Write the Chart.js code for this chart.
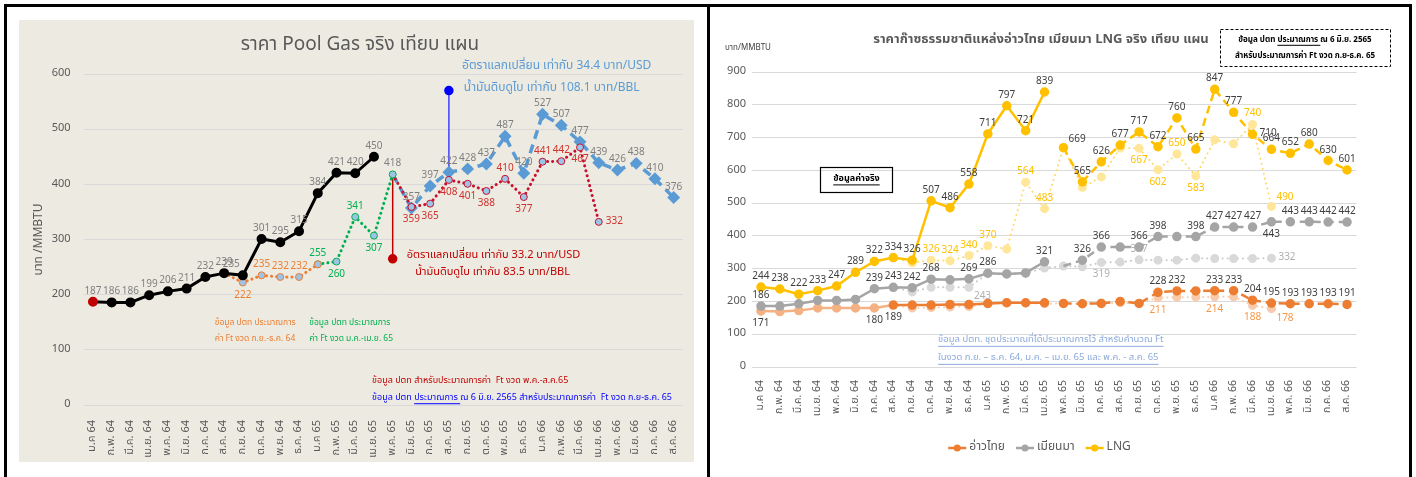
<!DOCTYPE html>
<html>
<head>
<meta charset="utf-8">
<script src="https://cdn.jsdelivr.net/npm/chart.js@4.4.0/dist/chart.umd.min.js"></script>
<style>
html,body{margin:0;padding:0;background:#fff;width:1416px;height:477px;overflow:hidden}
#frame{position:absolute;left:4px;top:4px;width:1402px;height:480px;border:3px solid #000;border-bottom:none}
#divider{position:absolute;left:707px;top:4px;width:3px;height:473px;background:#000}
#left{position:absolute;left:19px;top:20px;width:675px;height:442px;background:#EDEBE1}
#right{position:absolute;left:710px;top:7px;width:699px;height:470px;background:#fff}
canvas{display:block}
</style>
</head>
<body>
<div id="frame"></div>
<div id="divider"></div>
<div id="left"><canvas id="poolChart" width="675" height="442"></canvas></div>
<div id="right"><canvas id="gasChart" width="699" height="470"></canvas></div>
<script>
// ---- categories ----
const months=['ม.ค 64','ก.พ. 64','มี.ค. 64','เม.ย. 64','พ.ค. 64','มิ.ย. 64','ก.ค. 64','ส.ค. 64','ก.ย. 64','ต.ค. 64','พ.ย. 64','ธ.ค. 64',
  'ม.ค 65','ก.พ. 65','มี.ค. 65','เม.ย. 65','พ.ค. 65','มิ.ย. 65','ก.ค. 65','ส.ค. 65','ก.ย. 65','ต.ค. 65','พ.ย. 65','ธ.ค. 65',
  'ม.ค 66','ก.พ. 66','มี.ค. 66','เม.ย. 66','พ.ค. 66','มิ.ย. 66','ก.ค. 66','ส.ค. 66'];

// ---- Pool Gas (left), บาท/MMBTU ----
const poolActual=[187,186,186,199,206,211,232,239,235,301,295,315,384,421,420,450];      // from ม.ค 64
const poolPlanSepDec64=[239,222,235,232,232,255];                                          // from ส.ค. 64
const poolPlanJanApr65=[255,260,341,307,418];                                              // from ม.ค 65
const poolPlanJun65=[418,357,397,422,428,437,487,420,527,507,477,439,426,438,410,376];    // from พ.ค. 65
const poolPlanMayAug65=[418,359,365,408,401,388,410,377,441,442,467,332];                 // from พ.ค. 65
const poolMarkLow=[418,265];   // at พ.ค. 65
const poolMarkHigh=[422,570];  // at ส.ค. 65

// ---- อ่าวไทย / เมียนมา / LNG (right) ----
const gulfActual=[171,169,172,180,180,180,180,189,189,189,191,191,194,196,196,196];        // from ม.ค 64
const gulfPlanOld=[189,180,181,183,184,193,196,195,193,194,193,195,196,194,211,213,213,214,214,188,178]; // from ส.ค. 64
const gulfPlanJun=[194,193,194,200,194,228,232,232,233,233,204,195,193,193,193,191];      // from พ.ค. 65
const myaActual=[186,186,193,203,203,206,239,243,242,268,266,269,286,284,287,321];
const myaPlanOld=[243,229,243,243,243,286,284,286,302,308,306,319,320,327,326,326,332,331,331,331,332];
const myaPlanJun=[308,326,366,366,366,398,398,398,427,427,427,443,443,443,442,442];
const lngActual=[244,238,222,233,247,289,322,334,326,507,486,558,711,797,721,839];
const lngPlanOld=[334,318,326,324,340,370,360,564,483,669,548,580,668,667,602,650,583,693,681,740,490];
const lngPlanJun=[669,565,626,677,717,672,760,665,847,777,710,664,652,680,630,601];

const FONT="Tahoma,'Leelawadee UI','Noto Sans Thai','Noto Sans','DejaVu Sans',sans-serif";
Chart.defaults.font.family=FONT;
Chart.defaults.animation=false;

const at=(start,vals)=>Array(start).fill(null).concat(vals);
const spots=(idx,pos,extra)=>{const o={};idx.forEach(i=>o[i]=pos);return Object.assign(o,extra||{});};
const range=(a,b)=>Array.from({length:b-a+1},(_,i)=>a+i);

// draws a value next to chosen points
const valueLabels={
  id:'valueLabels',
  afterDatasetsDraw(chart){
    const c=chart.ctx;
    chart.data.datasets.forEach((ds,di)=>{
      if(!ds.lbl) return;
      const meta=chart.getDatasetMeta(di);
      c.save();
      c.font=(ds.lbl.size||10)+'px '+FONT;
      c.fillStyle=ds.lbl.color;
      Object.entries(ds.lbl.at).forEach(([i,pos])=>{
        const p=meta.data[i], v=ds.data[i];
        if(!p||v==null) return;
        let x=p.x,y=p.y;
        c.textAlign='center';c.textBaseline='alphabetic';
        if(pos==='a'){y-=8;}
        else if(pos==='b'){y+=8;c.textBaseline='top';}
        else if(pos==='r'){x+=7;c.textAlign='left';c.textBaseline='middle';}
        else if(pos==='ar'){x+=5;y-=6;c.textAlign='left';}
        else if(pos==='br'){x+=5;y+=5;c.textAlign='left';c.textBaseline='top';}
        else if(pos==='al'){x-=3;y-=8;c.textAlign='right';}
        c.fillText(String(v),x,y);
      });
      c.restore();
    });
  }
};

// text with optional underlined parts
function say(c,parts,x,y,size,color,o){
  o=o||{};
  if(typeof parts==='string') parts=[[parts,!!o.under]];
  c.save();
  c.font=(o.bold?'bold ':'')+size+'px '+FONT;
  c.fillStyle=color;c.textBaseline='middle';c.textAlign='left';
  const total=parts.reduce((s,p)=>s+c.measureText(p[0]).width,0);
  let cx=o.align==='center'?x-total/2:x;
  parts.forEach(([s,u])=>{
    const w=c.measureText(s).width;
    c.fillText(s,cx,y);
    if(u) c.fillRect(cx,y+size*0.6,w,1);
    cx+=w;
  });
  c.restore();
}

function axes(max,yW,xH,yPad,xPad,xFont){
  return {
    x:{offset:true,grid:{display:false},border:{display:false},
       ticks:{autoSkip:false,maxRotation:90,minRotation:90,color:'#595959',font:{size:xFont},padding:xPad},
       afterFit(s){s.height=xH;}},
    y:{min:0,max:max,ticks:{stepSize:100,color:'#595959',font:{size:11},padding:yPad},
       grid:{color:'#D9D9D9',drawTicks:false},border:{display:false},
       afterFit(s){s.width=yW;}}
  };
}

const hideAt=(k,r)=>c=>c.dataIndex===k?0:r;

// ================= left chart =================
new Chart(document.getElementById('poolChart'),{
  type:'line',
  data:{labels:months,datasets:[
    {data:poolActual,borderColor:'#000',borderWidth:3,pointRadius:3.5,
     pointBackgroundColor:c=>c.dataIndex===0?'#C00000':'#000',pointBorderColor:c=>c.dataIndex===0?'#C00000':'#000',
     lbl:{color:'#7F7F7F',at:spots(range(0,15),'a',{8:'al'})}},
    {data:at(7,poolPlanSepDec64),borderColor:'#ED7D31',borderWidth:3,borderDash:[0.1,5],borderCapStyle:'round',
     pointRadius:hideAt(7,3.5),pointBackgroundColor:'#9DC3E6',pointBorderColor:'#ED7D31',pointBorderWidth:1,
     lbl:{color:'#ED7D31',at:spots([9,10,11],'a',{8:'b'})}},
    {data:at(12,poolPlanJanApr65),borderColor:'#00B050',borderWidth:3,borderDash:[0.1,5],borderCapStyle:'round',
     pointRadius:3.5,pointBackgroundColor:'#9DC3E6',pointBorderColor:'#00B050',pointBorderWidth:1,
     lbl:{color:'#00B050',at:spots([12,14],'a',{13:'b',15:'b'})}},
    {data:at(16,poolPlanMayAug65),borderColor:'#C8102E',borderWidth:3,borderDash:[0.1,5],borderCapStyle:'round',
     pointRadius:hideAt(16,3.5),pointBackgroundColor:'#9DC3E6',pointBorderColor:'#C8102E',pointBorderWidth:1,
     lbl:{color:'#D0312D',at:spots([17,18,19,20,21,23,26],'b',{22:'a',24:'a',25:'a',27:'r'})}},
    {data:at(16,poolPlanJun65),borderColor:'#5B9BD5',borderWidth:3.5,borderDash:[9,6],
     pointRadius:hideAt(16,4),pointStyle:'rectRot',pointBackgroundColor:'#5B9BD5',pointBorderColor:'#5B9BD5',
     lbl:{color:'#7F7F7F',at:spots(range(16,31),'a')}},
    {data:poolMarkLow.map(v=>({x:'พ.ค. 65',y:v})),borderColor:'#C00000',borderWidth:1.5,
     pointRadius:c=>c.dataIndex===1?4:0,pointBackgroundColor:'#C00000',pointBorderColor:'#C00000'},
    {data:poolMarkHigh.map(v=>({x:'ส.ค. 65',y:v})),borderColor:'#3F3FFF',borderWidth:1.5,
     pointRadius:c=>c.dataIndex===1?4:0,pointBackgroundColor:'#0000FF',pointBorderColor:'#0000FF'}
  ]},
  options:{
    responsive:false,
    layout:{padding:{left:0,right:7.6,top:54,bottom:0}},
    plugins:{legend:{display:false},tooltip:{enabled:false}},
    scales:axes(600,64.6,57,13,7,11)
  },
  plugins:[valueLabels,{id:'poolNotes',afterDraw(chart){
    const c=chart.ctx,xs=chart.scales.x,ys=chart.scales.y;
    const X=i=>xs.getPixelForValue(i),Y=v=>ys.getPixelForValue(v);
    say(c,'ราคา Pool Gas จริง เทียบ แผน',341,26,19,'#595959',{align:'center'});
    c.save();c.translate(21,(chart.chartArea.top+chart.chartArea.bottom)/2);c.rotate(-Math.PI/2);
    say(c,'บาท /MMBTU',0,0,12,'#595959',{align:'center'});c.restore();
    say(c,'อัตราแลกเปลี่ยน เท่ากับ 34.4 บาท/USD',X(19.7),Y(613),12,'#5B9BD5');
    say(c,'น้ำมันดิบดูไบ เท่ากับ 108.1 บาท/BBL',X(19.8),Y(573),12,'#5B9BD5');
    say(c,'อัตราแลกเปลี่ยน เท่ากับ 33.2 บาท/USD',X(16.75),Y(271),11,'#C00000');
    say(c,'น้ำมันดิบดูไบ เท่ากับ 83.5 บาท/BBL',X(17.2),Y(240),11,'#C00000');
    say(c,'ข้อมูล ปตท ประมาณการ',X(6.5),Y(149),8.5,'#ED7D31');
    say(c,'ค่า Ft งวด ก.ย.-ธ.ค. 64',X(6.5),Y(120),8.5,'#ED7D31');
    say(c,'ข้อมูล ปตท ประมาณการ',X(11.55),Y(149),8.5,'#00B050');
    say(c,'ค่า Ft งวด ม.ค.-เม.ย. 65',X(11.55),Y(120),8.5,'#00B050');
    say(c,'ข้อมูล ปตท สำหรับประมาณการค่า  Ft งวด พ.ค.-ส.ค.65',X(14.9),Y(44),9,'#C00000');
    say(c,[['ข้อมูล ปตท ',false],['ประมาณการ ',true],['ณ 6 มิ.ย. 2565 สำหรับประมาณการค่า  Ft งวด ก.ย-ธ.ค. 65',false]],X(14.9),Y(13),9,'#0000FF');
  }}]
});

// ================= right chart =================
const GULF='#ED7D31',MYA='#A5A5A5',LNG='#FFC000',DARK='#404040';
new Chart(document.getElementById('gasChart'),{
  type:'line',
  data:{labels:months,datasets:[
    {data:lngActual,borderColor:LNG,borderWidth:2.5,pointRadius:3.5,pointBackgroundColor:LNG,pointBorderColor:LNG,
     lbl:{color:DARK,at:spots(range(0,15),'a')}},
    {data:myaActual,borderColor:MYA,borderWidth:2.5,pointRadius:3.5,pointBackgroundColor:MYA,pointBorderColor:MYA,
     lbl:{color:DARK,at:spots([0,6,7,8,9,11,12,15],'a')}},
    {data:gulfActual,borderWidth:2.5,pointRadius:3.5,
     segment:{borderColor:c=>c.p0DataIndex<7?'#F4B183':GULF},
     borderColor:GULF,pointBackgroundColor:c=>c.dataIndex<7?'#F4B183':GULF,pointBorderColor:c=>c.dataIndex<7?'#F4B183':GULF,
     lbl:{color:DARK,at:spots([0,6,7],'b')}},
    {data:at(16,lngPlanJun),borderColor:LNG,borderWidth:2.5,borderDash:[8,5],pointRadius:3.5,pointBackgroundColor:LNG,pointBorderColor:LNG,
     lbl:{color:DARK,at:spots(range(17,31),'a',{16:'ar',26:'r'})}},
    {data:at(16,myaPlanJun),borderColor:MYA,borderWidth:2.5,borderDash:[8,5],pointRadius:hideAt(16,3.5),pointBackgroundColor:MYA,pointBorderColor:MYA,
     lbl:{color:DARK,at:spots([17,18,20,21,23,24,25,26,28,29,30,31],'a',{27:'b'})}},
    {data:at(16,gulfPlanJun),borderColor:GULF,borderWidth:2.5,borderDash:[8,5],pointRadius:3.5,pointBackgroundColor:GULF,pointBorderColor:GULF,
     lbl:{color:DARK,at:spots([21,22,24,25,26,27,28,29,30,31],'a')}},
    {data:at(7,lngPlanOld),borderColor:'#FFD966',borderWidth:2,borderDash:[0.1,5],borderCapStyle:'round',
     pointRadius:hideAt(7,3.5),pointBackgroundColor:'#FFE699',pointBorderColor:'#FFE699',
     lbl:{color:LNG,at:spots([9,10,11,12,14,15,22,26],'a',{20:'b',21:'b',23:'b',27:'ar'})}},
    {data:at(7,myaPlanOld),borderColor:'#C9C9C9',borderWidth:2,borderDash:[0.1,5],borderCapStyle:'round',
     pointRadius:hideAt(7,3.5),pointBackgroundColor:'#D9D9D9',pointBorderColor:'#D9D9D9',
     lbl:{color:'#AFAFAF',at:{11:'br',18:'b',20:'a',27:'r'}}},
    {data:at(7,gulfPlanOld),borderColor:'#F8CBAD',borderWidth:2,borderDash:[0.1,5],borderCapStyle:'round',
     pointRadius:hideAt(7,3.5),pointBackgroundColor:'#F8CBAD',pointBorderColor:'#F8CBAD',
     lbl:{color:'#F79646',at:{21:'b',24:'b',26:'b',27:'br'}}}
  ]},
  options:{
    responsive:false,
    layout:{padding:{left:0,right:52.5,top:65,bottom:50}},
    plugins:{legend:{display:false},tooltip:{enabled:false}},
    scales:axes(900,41.5,60,5.5,5,10.5)
  },
  plugins:[valueLabels,{id:'gasNotes',afterDraw(chart){
    const c=chart.ctx,xs=chart.scales.x,ys=chart.scales.y;
    const X=i=>xs.getPixelForValue(i),Y=v=>ys.getPixelForValue(v);
    say(c,'ราคาก๊าซธรรมชาติแหล่งอ่าวไทย เมียนมา LNG จริง เทียบ แผน',331,33,13,'#595959',{align:'center',bold:true});
    say(c,'บาท/MMBTU',15,41,8,'#404040');
    // dashed note box
    c.save();c.strokeStyle='#000';c.lineWidth=1;c.setLineDash([3,2]);c.strokeRect(510.5,22.5,170,37);c.restore();
    say(c,[['ข้อมูล ปตท ',false],['ประมาณการ ',true],['ณ 6 มิ.ย. 2565',false]],595,33,8,'#000',{align:'center',bold:true});
    say(c,'สำหรับประมาณการค่า Ft งวด ก.ย-ธ.ค. 65',595,49,8,'#000',{align:'center',bold:true});
    // actual-data box
    c.save();c.strokeStyle='#000';c.lineWidth=1.2;c.strokeRect(110.5,160.5,72,25);c.restore();
    say(c,'ข้อมูลค่าจริง',146.5,172,9,'#000',{align:'center',bold:true,under:true});
    say(c,'ข้อมูล ปตท. ชุดประมาณที่ได้ประมาณการไว้ สำหรับคำนวณ Ft',X(9.37),Y(82),9.5,'#8EAADB',{under:true});
    say(c,'ในงวด ก.ย. – ธ.ค. 64, ม.ค. – เม.ย. 65 และ พ.ค. - ส.ค. 65',X(9.37),Y(27),9.5,'#8EAADB',{under:true});
    // legend
    const items=[['อ่าวไทย',GULF],['เมียนมา',MYA],['LNG',LNG]];
    c.save();c.font='12px '+FONT;
    const widths=items.map(it=>22+c.measureText(it[0]).width);
    const gap=10,total=widths.reduce((a,b)=>a+b,0)+gap*(items.length-1);
    let lx=330-total/2;const ly=441;
    items.forEach((it,k)=>{
      c.strokeStyle=it[1];c.lineWidth=2.5;c.beginPath();c.moveTo(lx,ly);c.lineTo(lx+18,ly);c.stroke();
      c.fillStyle=it[1];c.beginPath();c.arc(lx+9,ly,3.5,0,Math.PI*2);c.fill();
      c.fillStyle='#595959';c.textBaseline='middle';c.textAlign='left';c.fillText(it[0],lx+21,ly);
      lx+=widths[k]+gap;
    });
    c.restore();
  }}]
});
</script>
</body>
</html>
